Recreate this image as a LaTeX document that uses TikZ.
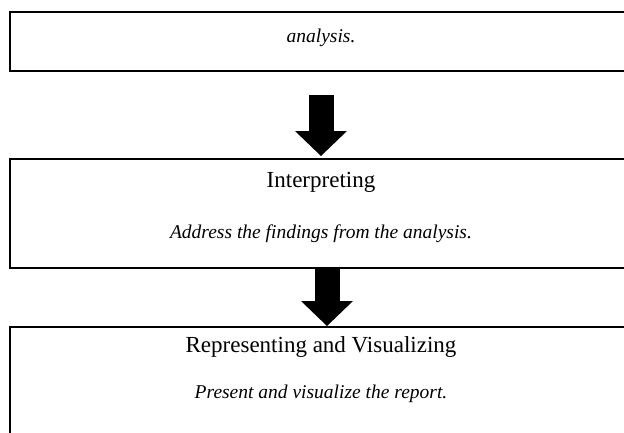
\documentclass[tikz,border=0pt]{standalone}
\usepackage{fontspec}
\setmainfont{Liberation Serif}
\usetikzlibrary{arrows.meta}
\tikzset{
  stagebox/.style={draw, line width=2pt, minimum width=622pt, inner sep=0pt},
  stagetitle/.style={anchor=base, font=\fontsize{23}{27}\selectfont},
  stagenote/.style={anchor=base, font=\fontsize{19.5}{24}\selectfont\itshape},
  flowarrow/.style={line width=25pt, -{Triangle[width=52pt,length=25pt,line width=0pt]}}
}
\begin{document}
\begin{tikzpicture}[x=1pt,y=-1pt]
  \useasboundingbox (0,0) rectangle (624,432);
  \clip (0,0) rectangle (624,432);
  \node[stagebox, minimum height=59pt] (analysisbox) at (321,41.5) {};
  \node[stagebox, minimum height=109pt] (interpbox) at (321,213.5) {};
  \node[stagebox, minimum height=110pt] (reprbox) at (321,382) {};
  \node[stagenote] (analysisnote) at (321,42) {analysis.};
  \node[stagetitle] (interptitle) at (321,187) {Interpreting};
  \node[stagenote] (interpnote) at (321,238)
    {Address the findings from the analysis.};
  \node[stagetitle] (reprtitle) at (321,352) {Representing and Visualizing};
  \node[stagenote] (reprnote) at (321,398)
    {Present and visualize the report.};
  \draw[flowarrow, shorten <=23pt, shorten >=2pt]
    (analysisbox.south) -- (interpbox.north);
  \draw[flowarrow]
    ([xshift=6pt]interpbox.south) -- ([xshift=6pt]reprbox.north);
\end{tikzpicture}
\end{document}
